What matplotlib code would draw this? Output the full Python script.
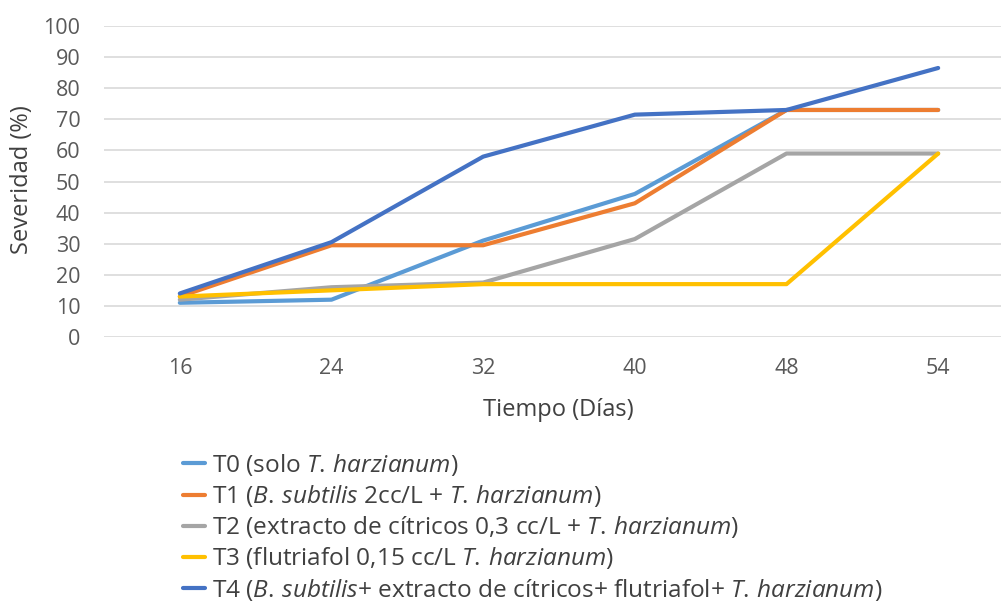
import matplotlib.pyplot as plt

plt.rcParams['font.family'] = ['Open Sans', 'DejaVu Sans']
plt.rcParams['mathtext.fontset'] = 'custom'
plt.rcParams['mathtext.rm'] = 'Open Sans'
plt.rcParams['mathtext.it'] = 'Open Sans:italic'

dias = ['16', '24', '32', '40', '48', '54']
t0 = [11, 12, 31, 46, 73, 73]
t1 = [13, 29.5, 29.5, 43, 73, 73]
t2 = [12, 16, 17.5, 31.5, 59, 59]
t3 = [13, 15, 17, 17, 17, 59]
t4 = [14, 30.5, 58, 71.5, 73, 86.5]

labels = [
    r'T0 (solo $\it{T.\,harzianum}$)',
    r'T1 ($\it{B.\,subtilis}$ 2cc/L + $\it{T.\,harzianum}$)',
    r'T2 (extracto de cítricos 0,3 cc/L + $\it{T.\,harzianum}$)',
    r'T3 (flutriafol 0,15 cc/L $\it{T.\,harzianum}$)',
    r'T4 ($\it{B.\,subtilis}$+ extracto de cítricos+ flutriafol+ $\it{T.\,harzianum}$)',
]
colors = ['#5B9BD5', '#ED7D31', '#A5A5A5', '#FFC000', '#4472C4']

fig = plt.figure(figsize=(10.01, 6.04), dpi=100)
ax = fig.add_axes([104 / 1001, 1 - 337 / 604, (1014 - 104) / 1001, (337 - 26) / 604])

x = range(len(dias))
for vals, c, lab in zip([t0, t1, t2, t3, t4], colors, labels):
    ax.plot(x, vals, color=c, lw=3, label=lab, solid_capstyle='round')

ax.set_xlim(-0.5, 5.5)
ax.set_ylim(0, 100)
ax.set_yticks(range(0, 101, 10))
ax.set_xticks(list(x))
ax.set_xticklabels(dias)
ax.grid(axis='y', color='#D9D9D9', lw=1.2)
ax.set_axisbelow(True)
for s in ax.spines.values():
    s.set_visible(False)
ax.tick_params(length=0, labelsize=15.5, colors='#595959', pad=17)
ax.tick_params(axis='x', pad=15)
ax.set_xlabel('Tiempo (Días)', fontsize=17, color='#404040')
ax.set_ylabel('Severidad (%)', fontsize=17, color='#404040')
ax.xaxis.set_label_coords((558 - 104) / (1014 - 104), -(398 - 337) / (337 - 26))
ax.yaxis.set_label_coords(-(104 - 34) / (1014 - 104), (337 - 180) / (337 - 26))

fig.legend(loc='upper left', bbox_to_anchor=(183 / 1001, 1 - 452 / 604), frameon=False,
           fontsize=17.6, handlelength=0.92, handletextpad=0.28, labelspacing=0.21,
           borderpad=0, borderaxespad=0, labelcolor='#404040')

fig.savefig('out.png', dpi=100)
